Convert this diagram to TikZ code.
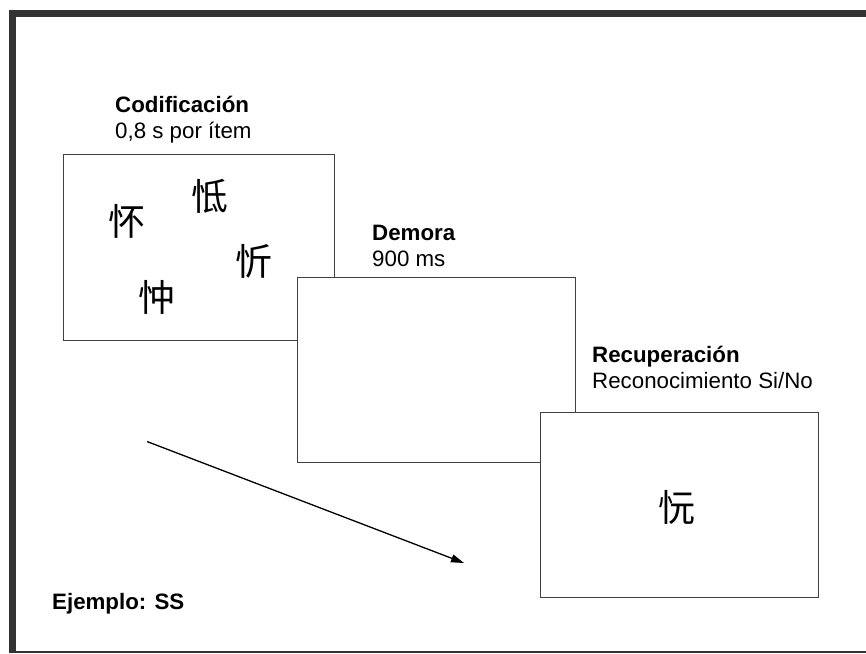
\documentclass[tikz,border=0pt]{standalone}
\usepackage{fontspec}
\setmainfont{Liberation Sans}
\newfontfamily\cjk{Noto Sans CJK SC}
\usetikzlibrary{arrows.meta}
\definecolor{framegray}{HTML}{333333}
\definecolor{boxgray}{HTML}{404040}
\tikzset{
  screen/.style={draw=boxgray, line width=1pt, fill=white},
  lbl/.style={anchor=base west, inner sep=0pt, font=\fontsize{22.3}{26}\selectfont},
  lblb/.style={lbl, font=\fontsize{22.3}{26}\selectfont\bfseries},
  hz/.style={inner sep=0pt, font=\cjk\fontsize{37}{37}\selectfont},
  flow/.style={draw=black, line width=1.3pt, -{Triangle[length=13pt,width=8pt]}}
}
\begin{document}
\begin{tikzpicture}[x=1pt,y=-1pt]
\useasboundingbox (0,0) rectangle (866,653);
% frame
\fill[framegray] (9,10) rectangle (866,17);
\fill[framegray] (9,10) rectangle (16,653);
\fill[framegray] (9,651) rectangle (866,652.6);
% screens
\draw[screen] (63,154) rectangle (334.5,340.5);
\draw[screen] (297.5,277.5) rectangle (575.5,462.5);
\draw[screen] (540.5,412.5) rectangle (818,597);
% CJK items
\node[hz] (c1) at (127,221) {怀};
\node[hz] (c2) at (210,196) {怟};
\node[hz] (c3) at (254,261) {忻};
\node[hz] (c4) at (157,297) {忡};
\node[hz] (c5) at (677,507) {忨};
% labels
\node[lblb] (t1) at (115,112) {Codificación};
\node[lbl] (s1) at (115,138) {0,8 s por ítem};
\node[lblb] (t2) at (372,240) {Demora};
\node[lbl] (s2) at (372,266) {900 ms};
\node[lblb] (t3) at (592,362) {Recuperación};
\node[lbl] (s3) at (592,388) {Reconocimiento Si/No};
\node[lblb] (ex) at (52,609) {Ejemplo: SS};
% time arrow
\coordinate (a0) at (147,441.5);
\coordinate (a1) at (464,563);
\draw[flow] (a0) -- (a1);
\end{tikzpicture}
\end{document}
